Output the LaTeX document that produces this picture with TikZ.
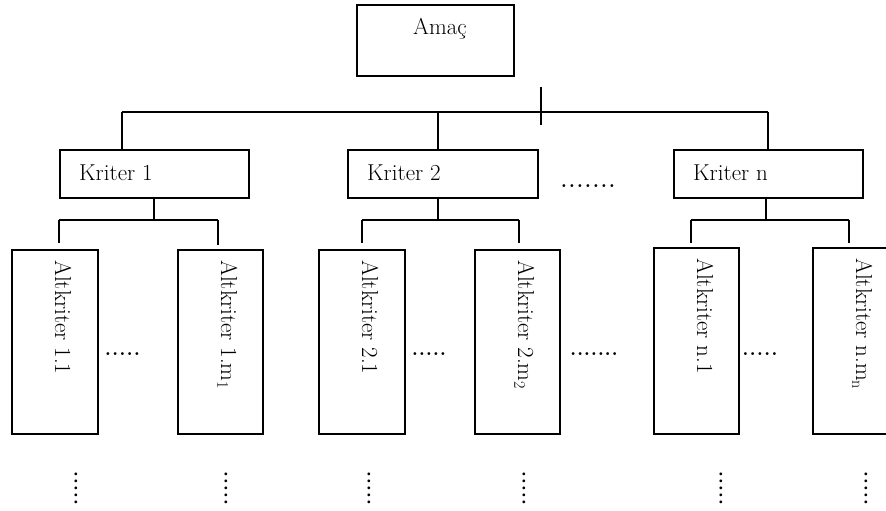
\documentclass[tikz,border=0pt]{standalone}
\newcommand\dotrow[2]{\hbox to #1{\cleaders\hbox to #2{\hss.\hss}\hfill}}
\tikzset{
  box/.style={draw, line width=1.6pt, inner sep=0pt},
  conn/.style={line width=1.4pt},
  lbl/.style={font=\fontsize{23}{27}\selectfont, inner sep=0pt},
  vlbl/.style={lbl, rotate=-90, anchor=base west},
  dots/.style={font=\fontsize{20}{24}\selectfont\bfseries, inner sep=0pt, anchor=base},
}
\newcommand\rbox[5]{\node[box, minimum width=#4-#2, minimum height=#5-#3, anchor=north west] (#1) at (#2,#3) {};}
\begin{document}
\begin{tikzpicture}[x=1pt,y=-1pt]
\useasboundingbox (0,0) rectangle (886,511);
% goal
\rbox{goal}{356}{4}{513}{75}
\node[lbl, anchor=base] (goaltxt) at (440,35) {Ama\c{c}};
% criteria
\rbox{k1}{59}{149}{248}{197}
\rbox{k2}{347}{149}{537}{197}
\rbox{kn}{673}{149}{862}{197}
\node[lbl, anchor=west] (k1t) at (79,173) {Kriter 1};
\node[lbl, anchor=west] (k2t) at (367,173) {Kriter 2};
\node[lbl, anchor=west] (knt) at (693,173) {Kriter n};
% top bus
\coordinate (b1) at (122,112);
\coordinate (b2) at (438,112);
\coordinate (bn) at (768,112);
\draw[conn] (b1) -- (bn);
\draw[conn] (b1) -- (b1 |- k1.north);
\draw[conn] (b2) -- (b2 |- k2.north);
\draw[conn] (bn) -- (bn |- kn.north);
\coordinate (tickt) at (541,87);
\coordinate (tickb) at (541,125);
\draw[conn] (tickt) -- (tickb);
% sub-criteria boxes
\rbox{a11}{11}{249}{97}{433}
\rbox{a1m}{177}{249}{262}{433}
\rbox{a21}{318}{249}{404}{433}
\rbox{a2m}{474}{249}{559}{433}
\rbox{an1}{653}{247}{738}{433}
\rbox{anm}{812}{247}{898}{433}
\node[vlbl] (a11t) at (55,260) {Altkriter 1.1};
\node[vlbl] (a1mt) at (221,260) {Altkriter 1.m\textsubscript{1}};
\node[vlbl] (a21t) at (362,260) {Altkriter 2.1};
\node[vlbl] (a2mt) at (518,260) {Altkriter 2.m\textsubscript{2}};
\node[vlbl] (an1t) at (697,258) {Altkriter n.1};
\node[vlbl] (anmt) at (856,258) {Altkriter n.m\textsubscript{n}};
% lower buses
\coordinate (c1) at (154,220);
\coordinate (c1l) at (59,220);
\coordinate (c1r) at (218,220);
\draw[conn] (c1 |- k1.south) -- (c1);
\draw[conn] (c1l) -- (c1r);
\draw[conn] (c1l) -- ([yshift=6pt]c1l |- a11.north);
\draw[conn] (c1r) -- ([yshift=4pt]c1r |- a1m.north);
\coordinate (c2) at (438,220);
\coordinate (c2l) at (362,220);
\coordinate (c2r) at (519,220);
\draw[conn] (c2 |- k2.south) -- (c2);
\draw[conn] (c2l) -- (c2r);
\draw[conn] (c2l) -- ([yshift=6pt]c2l |- a21.north);
\draw[conn] (c2r) -- ([yshift=6pt]c2r |- a2m.north);
\coordinate (cn) at (766,220);
\coordinate (cnl) at (691,220);
\coordinate (cnr) at (849,220);
\draw[conn] (cn |- kn.south) -- (cn);
\draw[conn] (cnl) -- (cnr);
\draw[conn] (cnl) -- ([yshift=4pt]cnl |- an1.north);
\draw[conn] (cnr) -- ([yshift=4pt]cnr |- anm.north);
% horizontal dots
\node[dots] (d0) at (588,187) {\dotrow{56pt}{8pt}};
\node[dots] (d1) at (122.5,355) {\dotrow{36pt}{7.2pt}};
\node[dots] (d2) at (429,355) {\dotrow{35pt}{7pt}};
\node[dots] (d3) at (594,355) {\dotrow{55pt}{6.9pt}};
\node[dots] (d4) at (760,355) {\dotrow{36pt}{7.2pt}};
% vertical dots
\foreach \x [count=\i] in {76,226,369,524,721,866}{
  \node[dots, rotate=90] (v\i) at (\x+1.3,488) {\dotrow{35pt}{7pt}};
}
\end{tikzpicture}
\end{document}
